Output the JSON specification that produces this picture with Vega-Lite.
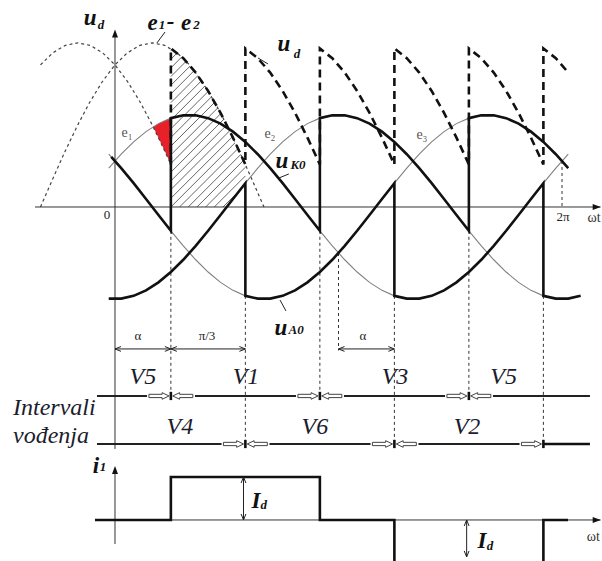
{
"$schema":"https://vega.github.io/schema/vega-lite/v6.json",
"width":602,"height":561,
"autosize":{"type":"fit","contains":"padding"},
"padding":0,
"background":"white",
"config":{"view":{"stroke":null}},
"datasets":{
"phase":[
{"t":-5,"e1":0.4226,"e2":-0.9962,"e3":0.5736},
{"t":5,"e1":0.5736,"e2":-0.9962,"e3":0.4226},
{"t":15,"e1":0.7071,"e2":-0.9659,"e3":0.2588},
{"t":25,"e1":0.8192,"e2":-0.9063,"e3":0.0872},
{"t":35,"e1":0.9063,"e2":-0.8192,"e3":-0.0872},
{"t":45,"e1":0.9659,"e2":-0.7071,"e3":-0.2588},
{"t":55,"e1":0.9962,"e2":-0.5736,"e3":-0.4226},
{"t":65,"e1":0.9962,"e2":-0.4226,"e3":-0.5736},
{"t":75,"e1":0.9659,"e2":-0.2588,"e3":-0.7071},
{"t":85,"e1":0.9063,"e2":-0.0872,"e3":-0.8192},
{"t":95,"e1":0.8192,"e2":0.0872,"e3":-0.9063},
{"t":105,"e1":0.7071,"e2":0.2588,"e3":-0.9659},
{"t":115,"e1":0.5736,"e2":0.4226,"e3":-0.9962},
{"t":125,"e1":0.4226,"e2":0.5736,"e3":-0.9962},
{"t":135,"e1":0.2588,"e2":0.7071,"e3":-0.9659},
{"t":145,"e1":0.0872,"e2":0.8192,"e3":-0.9063},
{"t":155,"e1":-0.0872,"e2":0.9063,"e3":-0.8192},
{"t":165,"e1":-0.2588,"e2":0.9659,"e3":-0.7071},
{"t":175,"e1":-0.4226,"e2":0.9962,"e3":-0.5736},
{"t":185,"e1":-0.5736,"e2":0.9962,"e3":-0.4226},
{"t":195,"e1":-0.7071,"e2":0.9659,"e3":-0.2588},
{"t":205,"e1":-0.8192,"e2":0.9063,"e3":-0.0872},
{"t":215,"e1":-0.9063,"e2":0.8192,"e3":0.0872},
{"t":225,"e1":-0.9659,"e2":0.7071,"e3":0.2588},
{"t":235,"e1":-0.9962,"e2":0.5736,"e3":0.4226},
{"t":245,"e1":-0.9962,"e2":0.4226,"e3":0.5736},
{"t":255,"e1":-0.9659,"e2":0.2588,"e3":0.7071},
{"t":265,"e1":-0.9063,"e2":0.0872,"e3":0.8192},
{"t":275,"e1":-0.8192,"e2":-0.0872,"e3":0.9063},
{"t":285,"e1":-0.7071,"e2":-0.2588,"e3":0.9659},
{"t":295,"e1":-0.5736,"e2":-0.4226,"e3":0.9962},
{"t":305,"e1":-0.4226,"e2":-0.5736,"e3":0.9962},
{"t":315,"e1":-0.2588,"e2":-0.7071,"e3":0.9659},
{"t":325,"e1":-0.0872,"e2":-0.8192,"e3":0.9063},
{"t":335,"e1":0.0872,"e2":-0.9063,"e3":0.8192},
{"t":345,"e1":0.2588,"e2":-0.9659,"e3":0.7071},
{"t":355,"e1":0.4226,"e2":-0.9962,"e3":0.5736},
{"t":365,"e1":0.5736,"e2":-0.9962,"e3":0.4226}
],
"uk":[
{"t":-3,"v":0.5446},{"t":5,"v":0.4226},{"t":15,"v":0.2588},{"t":25,"v":0.0872},{"t":35,"v":-0.0872},{"t":45,"v":-0.2588},
{"t":45,"v":0.9659},{"t":55,"v":0.9962},{"t":65,"v":0.9962},{"t":75,"v":0.9659},{"t":85,"v":0.9063},{"t":95,"v":0.8192},{"t":105,"v":0.7071},{"t":115,"v":0.5736},{"t":125,"v":0.4226},{"t":135,"v":0.2588},{"t":145,"v":0.0872},{"t":155,"v":-0.0872},{"t":165,"v":-0.2588},
{"t":165,"v":0.9659},{"t":175,"v":0.9962},{"t":185,"v":0.9962},{"t":195,"v":0.9659},{"t":205,"v":0.9063},{"t":215,"v":0.8192},{"t":225,"v":0.7071},{"t":235,"v":0.5736},{"t":245,"v":0.4226},{"t":255,"v":0.2588},{"t":265,"v":0.0872},{"t":275,"v":-0.0872},{"t":285,"v":-0.2588},
{"t":285,"v":0.9659},{"t":295,"v":0.9962},{"t":305,"v":0.9962},{"t":315,"v":0.9659},{"t":325,"v":0.9063},{"t":335,"v":0.8192},{"t":345,"v":0.7071},{"t":355,"v":0.5736},{"t":365,"v":0.4226}
],
"ua":[
{"t":-5,"v":-0.9962},{"t":5,"v":-0.9962},{"t":15,"v":-0.9659},{"t":25,"v":-0.9063},{"t":35,"v":-0.8192},{"t":45,"v":-0.7071},{"t":55,"v":-0.5736},{"t":65,"v":-0.4226},{"t":75,"v":-0.2588},{"t":85,"v":-0.0872},{"t":95,"v":0.0872},{"t":105,"v":0.2588},
{"t":105,"v":-0.9659},{"t":115,"v":-0.9962},{"t":125,"v":-0.9962},{"t":135,"v":-0.9659},{"t":145,"v":-0.9063},{"t":155,"v":-0.8192},{"t":165,"v":-0.7071},{"t":175,"v":-0.5736},{"t":185,"v":-0.4226},{"t":195,"v":-0.2588},{"t":205,"v":-0.0872},{"t":215,"v":0.0872},{"t":225,"v":0.2588},
{"t":225,"v":-0.9659},{"t":235,"v":-0.9962},{"t":245,"v":-0.9962},{"t":255,"v":-0.9659},{"t":265,"v":-0.9063},{"t":275,"v":-0.8192},{"t":285,"v":-0.7071},{"t":295,"v":-0.5736},{"t":305,"v":-0.4226},{"t":315,"v":-0.2588},{"t":325,"v":-0.0872},{"t":335,"v":0.0872},{"t":345,"v":0.2588},
{"t":345,"v":-0.9659},{"t":355,"v":-0.9962},{"t":365,"v":-0.9962},{"t":375,"v":-0.9659}
],
"ud":[
{"t":45,"v":0.4617},{"t":45,"v":1.7232},{"t":55,"v":1.6168},{"t":65,"v":1.4615},{"t":75,"v":1.2615},{"t":85,"v":1.0233},{"t":95,"v":0.7539},{"t":105,"v":0.4617},
{"t":105,"v":1.7232},{"t":115,"v":1.6168},{"t":125,"v":1.4615},{"t":135,"v":1.2615},{"t":145,"v":1.0233},{"t":155,"v":0.7539},{"t":165,"v":0.4617},
{"t":165,"v":1.7232},{"t":175,"v":1.6168},{"t":185,"v":1.4615},{"t":195,"v":1.2615},{"t":205,"v":1.0233},{"t":215,"v":0.7539},{"t":225,"v":0.4617},
{"t":225,"v":1.7232},{"t":235,"v":1.6168},{"t":245,"v":1.4615},{"t":255,"v":1.2615},{"t":265,"v":1.0233},{"t":275,"v":0.7539},{"t":285,"v":0.4617},
{"t":285,"v":1.7232},{"t":295,"v":1.6168},{"t":305,"v":1.4615},{"t":315,"v":1.2615},{"t":325,"v":1.0233},{"t":335,"v":0.7539},{"t":345,"v":0.4617},
{"t":345,"v":1.7232},{"t":355,"v":1.6168},{"t":365,"v":1.4615}
],
"arcs":[
{"c":"A","t":-60,"v":0},{"c":"A","t":-50,"v":0.3097},{"c":"A","t":-40,"v":0.6101},{"c":"A","t":-30,"v":0.892},{"c":"A","t":-20,"v":1.1468},{"c":"A","t":-10,"v":1.3665},{"c":"A","t":0,"v":1.545},{"c":"A","t":10,"v":1.6764},{"c":"A","t":20,"v":1.7569},{"c":"A","t":30,"v":1.784},{"c":"A","t":40,"v":1.7569},{"c":"A","t":50,"v":1.6764},{"c":"A","t":60,"v":1.545},{"c":"A","t":70,"v":1.3665},{"c":"A","t":80,"v":1.1468},{"c":"A","t":90,"v":0.892},{"c":"A","t":100,"v":0.6101},{"c":"A","t":110,"v":0.3097},{"c":"A","t":120,"v":0},
{"c":"B","t":-60,"v":1.545},{"c":"B","t":-50,"v":1.6764},{"c":"B","t":-40,"v":1.7569},{"c":"B","t":-30,"v":1.784},{"c":"B","t":-20,"v":1.7569},{"c":"B","t":-10,"v":1.6764},{"c":"B","t":0,"v":1.545},{"c":"B","t":10,"v":1.3665},{"c":"B","t":20,"v":1.1468},{"c":"B","t":30,"v":0.892},{"c":"B","t":40,"v":0.6101},{"c":"B","t":45,"v":0.4617}
],
"red":[
{"t":30.7,"v":0.872,"v2":0.872},{"t":35,"v":0.7539,"v2":0.9063},{"t":40,"v":0.6101,"v2":0.9397},{"t":45,"v":0.4617,"v2":0.9659}
],
"mask":[
{"c":"top","t":45,"v":1.7232,"v2":1.95},{"c":"top","t":55,"v":1.6168,"v2":1.95},{"c":"top","t":65,"v":1.4615,"v2":1.95},{"c":"top","t":75,"v":1.2615,"v2":1.95},{"c":"top","t":85,"v":1.0233,"v2":1.95},{"c":"top","t":95,"v":0.7539,"v2":1.95},{"c":"top","t":105,"v":0.4617,"v2":1.95},
{"c":"bot","t":88,"v":-0.05,"v2":0},{"c":"bot","t":90,"v":-0.05,"v2":0},{"c":"bot","t":95,"v":-0.05,"v2":0.0872},{"c":"bot","t":100,"v":-0.05,"v2":0.1736},{"c":"bot","t":105,"v":-0.05,"v2":0.2588}
],
"hatch":[
{"t":101,"v":0,"t2":105,"v2":0.054},{"t":94,"v":0,"t2":105,"v2":0.1485},{"t":87,"v":0,"t2":105,"v2":0.243},{"t":80,"v":0,"t2":105,"v2":0.3375},{"t":73,"v":0,"t2":105,"v2":0.432},{"t":66,"v":0,"t2":105,"v2":0.5265},{"t":59,"v":0,"t2":105,"v2":0.621},{"t":52,"v":0,"t2":105,"v2":0.7155},{"t":45,"v":0,"t2":105,"v2":0.81},
{"t":45,"v":0.0945,"t2":105,"v2":0.9045},{"t":45,"v":0.189,"t2":105,"v2":0.999},{"t":45,"v":0.2835,"t2":105,"v2":1.0935},{"t":45,"v":0.378,"t2":105,"v2":1.188},{"t":45,"v":0.4725,"t2":105,"v2":1.2825},{"t":45,"v":0.567,"t2":105,"v2":1.377},{"t":45,"v":0.6615,"t2":105,"v2":1.4715},{"t":45,"v":0.756,"t2":105,"v2":1.566},{"t":45,"v":0.8505,"t2":105,"v2":1.6605},
{"t":45,"v":0.945,"t2":102.6,"v2":1.7232},{"t":45,"v":1.0395,"t2":95.6,"v2":1.7232},{"t":45,"v":1.134,"t2":88.6,"v2":1.7232},{"t":45,"v":1.2285,"t2":81.6,"v2":1.7232},{"t":45,"v":1.323,"t2":74.6,"v2":1.7232},{"t":45,"v":1.4175,"t2":67.6,"v2":1.7232},{"t":45,"v":1.512,"t2":60.6,"v2":1.7232},{"t":45,"v":1.6065,"t2":53.6,"v2":1.7232},{"t":45,"v":1.701,"t2":46.6,"v2":1.7232}
],
"seg":[
{"k":"ax","t":-64.4,"v":0,"t2":391,"v2":0},
{"k":"ax","t":0,"v":1.9,"t2":0,"v2":-2.63},
{"k":"ax","t":0,"v":-2.84,"t2":0,"v2":-3.663},
{"k":"ax","t":-16.1,"v":-3.402,"t2":391,"v2":-3.402},
{"k":"dot","t":45,"v":-0.2588,"t2":45,"v2":-2.054},
{"k":"dot","t":165,"v":-0.2588,"t2":165,"v2":-2.054},
{"k":"dot","t":285,"v":-0.2588,"t2":285,"v2":-2.054},
{"k":"dot","t":105,"v":-0.9659,"t2":105,"v2":-2.576},
{"k":"dot","t":225,"v":-0.9659,"t2":225,"v2":-2.576},
{"k":"dot","t":345,"v":-0.9659,"t2":345,"v2":-2.576},
{"k":"dot","t":180,"v":-0.5,"t2":180,"v2":-1.56},
{"k":"dot","t":360,"v":0.5,"t2":360,"v2":0},
{"k":"row","t":-14.5,"v":-2.054,"t2":25.8,"v2":-2.054},
{"k":"row","t":64.4,"v":-2.054,"t2":145.8,"v2":-2.054},
{"k":"row","t":184.4,"v":-2.054,"t2":265.8,"v2":-2.054},
{"k":"row","t":304.4,"v":-2.054,"t2":382.5,"v2":-2.054},
{"k":"row","t":-14.5,"v":-2.576,"t2":85.8,"v2":-2.576},
{"k":"row","t":124.4,"v":-2.576,"t2":205.8,"v2":-2.576},
{"k":"row","t":244.4,"v":-2.576,"t2":325.8,"v2":-2.576},
{"k":"rowthick","t":345,"v":-2.576,"t2":382.5,"v2":-2.576},
{"k":"tick","t":45,"v":-2.009,"t2":45,"v2":-2.099},
{"k":"tick","t":165,"v":-2.009,"t2":165,"v2":-2.099},
{"k":"tick","t":285,"v":-2.009,"t2":285,"v2":-2.099},
{"k":"tick","t":105,"v":-2.531,"t2":105,"v2":-2.621},
{"k":"tick","t":225,"v":-2.531,"t2":225,"v2":-2.621},
{"k":"tick","t":345,"v":-2.531,"t2":345,"v2":-2.621},
{"k":"dim","t":0,"v":-1.543,"t2":45,"v2":-1.543},
{"k":"dim","t":45,"v":-1.543,"t2":105,"v2":-1.543},
{"k":"dim","t":180,"v":-1.543,"t2":225,"v2":-1.543},
{"k":"dim","t":103.5,"v":-2.935,"t2":103.5,"v2":-3.402},
{"k":"dim","t":283.2,"v":-3.402,"t2":283.2,"v2":-3.804},
{"k":"lead","t":33.8,"v":1.783,"t2":40.3,"v2":1.902},
{"k":"lead","t":115.2,"v":1.62,"t2":123.2,"v2":1.555},
{"k":"lead","t":132,"v":0.315,"t2":140,"v2":0.359},
{"k":"lead","t":132.9,"v":-1.011,"t2":137.7,"v2":-1.13}
],
"i1":[
{"t":-16.1,"v":-3.402},{"t":45,"v":-3.402},{"t":45,"v":-2.935},{"t":165,"v":-2.935},{"t":165,"v":-3.402},{"t":225,"v":-3.402},{"t":225,"v":-3.95},{"t":345,"v":-3.95},{"t":345,"v":-3.402},{"t":364.8,"v":-3.402}
],
"pts":[
{"k":"br","t":43.5,"v":-2.054},{"k":"br","t":163.5,"v":-2.054},{"k":"br","t":283.5,"v":-2.054},{"k":"br","t":103.5,"v":-2.576},{"k":"br","t":223.5,"v":-2.576},{"k":"br","t":343.5,"v":-2.576},
{"k":"bl","t":46.5,"v":-2.054},{"k":"bl","t":166.5,"v":-2.054},{"k":"bl","t":286.5,"v":-2.054},{"k":"bl","t":106.5,"v":-2.576},{"k":"bl","t":226.5,"v":-2.576},
{"k":"cl","t":0,"v":-1.543},{"k":"cl","t":45,"v":-1.543},{"k":"cl","t":180,"v":-1.543},
{"k":"cr","t":45,"v":-1.543},{"k":"cr","t":105,"v":-1.543},{"k":"cr","t":225,"v":-1.543},
{"k":"cu","t":103.5,"v":-2.935},{"k":"cu","t":283.2,"v":-3.402},
{"k":"cd","t":103.5,"v":-3.402},{"k":"cd","t":283.2,"v":-3.804},
{"k":"hr","t":391.2,"v":0},{"k":"hr","t":391.2,"v":-3.402},
{"k":"hu","t":0,"v":1.93},{"k":"hu","t":0,"v":-2.815}
],
"labels":[
{"k":"big","t":-20.1,"v":2.054,"label":"u"},
{"k":"big","t":30.2,"v":2.0,"label":"e"},
{"k":"big","t":44.7,"v":2.011,"label":"-"},
{"k":"big","t":57.2,"v":2.0,"label":"e"},
{"k":"big","t":136.1,"v":1.772,"label":"u"},
{"k":"big","t":134.5,"v":0.5,"label":"u"},
{"k":"big","t":133.7,"v":-1.315,"label":"u"},
{"k":"big","t":-15.3,"v":-2.815,"label":"i"},
{"k":"big","t":113.5,"v":-3.196,"label":"I"},
{"k":"big","t":295.6,"v":-3.63,"label":"I"},
{"k":"sub","t":-11.3,"v":1.978,"label":"d"},
{"k":"sub","t":37.9,"v":1.978,"label":"1"},
{"k":"sub","t":65.6,"v":1.978,"label":"2"},
{"k":"sub","t":146.6,"v":1.66,"label":"d"},
{"k":"sub","t":147.4,"v":0.457,"label":"K0"},
{"k":"sub","t":145.8,"v":-1.337,"label":"A0"},
{"k":"sub","t":-9.7,"v":-2.826,"label":"1"},
{"k":"sub","t":119.8,"v":-3.239,"label":"d"},
{"k":"sub","t":302,"v":-3.685,"label":"d"},
{"k":"reg","t":18.5,"v":-1.402,"label":"α"},
{"k":"reg","t":74.1,"v":-1.402,"label":"π/3"},
{"k":"reg","t":199.7,"v":-1.402,"label":"α"},
{"k":"reg","t":-6.4,"v":-0.087,"label":"0"},
{"k":"reg","t":360.8,"v":-0.109,"label":"2π"},
{"k":"regL","t":380.5,"v":-0.12,"label":"ωt"},
{"k":"regL","t":380,"v":-3.587,"label":"ωt"},
{"k":"e","t":9.7,"v":0.804,"label":"e₁"},
{"k":"e","t":124.8,"v":0.793,"label":"e₂"},
{"k":"e","t":247.2,"v":0.783,"label":"e₃"},
{"k":"V","t":22.5,"v":-1.848,"label":"V5"},
{"k":"V","t":105.5,"v":-1.848,"label":"V1"},
{"k":"V","t":225.5,"v":-1.848,"label":"V3"},
{"k":"V","t":313,"v":-1.848,"label":"V5"},
{"k":"V","t":52.3,"v":-2.391,"label":"V4"},
{"k":"V","t":161,"v":-2.391,"label":"V6"},
{"k":"V","t":283.5,"v":-2.391,"label":"V2"},
{"k":"int","t":-82.1,"v":-2.261,"label":"Intervali"},
{"k":"int","t":-82.1,"v":-2.565,"label":"vođenja"}
]
},
"encoding":{
"x":{"field":"t","type":"quantitative","scale":{"domain":[-92.6,392.2],"nice":false,"zero":false},"axis":null},
"y":{"field":"v","type":"quantitative","scale":{"domain":[-3.848,2.25],"nice":false,"zero":false},"axis":null}
},
"layer":[
{"data":{"name":"hatch"},"mark":{"type":"rule","stroke":"#555555","strokeWidth":0.9},"encoding":{"x2":{"field":"t2"},"y2":{"field":"v2"}}},
{"data":{"name":"mask"},"mark":{"type":"area","color":"white","opacity":1},"encoding":{"y2":{"field":"v2"},"detail":{"field":"c"}}},
{"data":{"name":"red"},"mark":{"type":"area","color":"#e8202a","opacity":1},"encoding":{"y2":{"field":"v2"}}},
{"data":{"name":"arcs"},"mark":{"type":"line","stroke":"#444444","strokeWidth":1.2,"strokeDash":[3,3]},"encoding":{"detail":{"field":"c"}}},
{"data":{"name":"phase"},"transform":[{"fold":["e1","e2","e3"],"as":["c","v"]}],"mark":{"type":"line","stroke":"#808080","strokeWidth":1.1},"encoding":{"detail":{"field":"c"}}},
{"data":{"name":"seg"},"transform":[{"filter":"datum.k == 'ax'"}],"mark":{"type":"rule","stroke":"#333333","strokeWidth":1},"encoding":{"x2":{"field":"t2"},"y2":{"field":"v2"}}},
{"data":{"name":"seg"},"transform":[{"filter":"datum.k == 'dot'"}],"mark":{"type":"rule","stroke":"#333333","strokeWidth":1,"strokeDash":[3,3]},"encoding":{"x2":{"field":"t2"},"y2":{"field":"v2"}}},
{"data":{"name":"uk"},"mark":{"type":"line","stroke":"#111111","strokeWidth":2.6},"encoding":{"order":{"value":null}}},
{"data":{"name":"ua"},"mark":{"type":"line","stroke":"#111111","strokeWidth":2.6},"encoding":{"order":{"value":null}}},
{"data":{"name":"ud"},"mark":{"type":"line","stroke":"#111111","strokeWidth":2.6,"strokeDash":[8,5]},"encoding":{"order":{"value":null}}},
{"data":{"name":"seg"},"transform":[{"filter":"datum.k == 'row'"}],"mark":{"type":"rule","stroke":"#222222","strokeWidth":2},"encoding":{"x2":{"field":"t2"},"y2":{"field":"v2"}}},
{"data":{"name":"seg"},"transform":[{"filter":"datum.k == 'rowthick' || datum.k == 'tick'"}],"mark":{"type":"rule","stroke":"#111111","strokeWidth":2.6},"encoding":{"x2":{"field":"t2"},"y2":{"field":"v2"}}},
{"data":{"name":"seg"},"transform":[{"filter":"datum.k == 'dim' || datum.k == 'lead'"}],"mark":{"type":"rule","stroke":"#222222","strokeWidth":1},"encoding":{"x2":{"field":"t2"},"y2":{"field":"v2"}}},
{"data":{"name":"i1"},"mark":{"type":"line","stroke":"#111111","strokeWidth":2.6,"clip":true},"encoding":{"order":{"value":null}}},
{"data":{"name":"pts"},"transform":[{"filter":"datum.k == 'br'"}],"mark":{"type":"point","shape":"M0,0L-2.3,-1.1L-2.3,-0.55L-6.7,-0.55L-6.7,0.55L-2.3,0.55L-2.3,1.1Z","size":36,"filled":true,"fill":"white","stroke":"#444444","strokeWidth":1,"opacity":1}},
{"data":{"name":"pts"},"transform":[{"filter":"datum.k == 'bl'"}],"mark":{"type":"point","shape":"M0,0L2.3,-1.1L2.3,-0.55L6.7,-0.55L6.7,0.55L2.3,0.55L2.3,1.1Z","size":36,"filled":true,"fill":"white","stroke":"#444444","strokeWidth":1,"opacity":1}},
{"data":{"name":"pts"},"transform":[{"filter":"datum.k == 'cl'"}],"mark":{"type":"point","shape":"M2,-0.8L0,0L2,0.8","size":36,"filled":false,"stroke":"#222222","strokeWidth":1,"opacity":1}},
{"data":{"name":"pts"},"transform":[{"filter":"datum.k == 'cr'"}],"mark":{"type":"point","shape":"M-2,-0.8L0,0L-2,0.8","size":36,"filled":false,"stroke":"#222222","strokeWidth":1,"opacity":1}},
{"data":{"name":"pts"},"transform":[{"filter":"datum.k == 'cu'"}],"mark":{"type":"point","shape":"M-0.8,2L0,0L0.8,2","size":36,"filled":false,"stroke":"#222222","strokeWidth":1,"opacity":1}},
{"data":{"name":"pts"},"transform":[{"filter":"datum.k == 'cd'"}],"mark":{"type":"point","shape":"M-0.8,-2L0,0L0.8,-2","size":36,"filled":false,"stroke":"#222222","strokeWidth":1,"opacity":1}},
{"data":{"name":"pts"},"transform":[{"filter":"datum.k == 'hr'"}],"mark":{"type":"point","shape":"M0,0L-2.7,-1L-2.7,1Z","size":36,"filled":true,"fill":"#111111","strokeWidth":0,"opacity":1}},
{"data":{"name":"pts"},"transform":[{"filter":"datum.k == 'hu'"}],"mark":{"type":"point","shape":"M0,0L-1,2.7L1,2.7Z","size":36,"filled":true,"fill":"#111111","strokeWidth":0,"opacity":1}},
{"data":{"name":"labels"},"transform":[{"filter":"datum.k == 'big'"}],"mark":{"type":"text","font":"Liberation Serif","fontSize":23,"fontWeight":"bold","fontStyle":"italic","align":"center","baseline":"middle","color":"#111111"},"encoding":{"text":{"field":"label"}}},
{"data":{"name":"labels"},"transform":[{"filter":"datum.k == 'sub'"}],"mark":{"type":"text","font":"Liberation Serif","fontSize":13,"fontWeight":"bold","fontStyle":"italic","align":"center","baseline":"middle","color":"#111111"},"encoding":{"text":{"field":"label"}}},
{"data":{"name":"labels"},"transform":[{"filter":"datum.k == 'reg'"}],"mark":{"type":"text","font":"Liberation Serif","fontSize":13,"align":"center","baseline":"middle","color":"#222222"},"encoding":{"text":{"field":"label"}}},
{"data":{"name":"labels"},"transform":[{"filter":"datum.k == 'regL'"}],"mark":{"type":"text","font":"Liberation Serif","fontSize":14,"align":"left","baseline":"middle","color":"#333333"},"encoding":{"text":{"field":"label"}}},
{"data":{"name":"labels"},"transform":[{"filter":"datum.k == 'e'"}],"mark":{"type":"text","font":"Liberation Serif","fontSize":14,"align":"center","baseline":"middle","color":"#555555"},"encoding":{"text":{"field":"label"}}},
{"data":{"name":"labels"},"transform":[{"filter":"datum.k == 'V'"}],"mark":{"type":"text","font":"Liberation Serif","fontSize":24,"fontStyle":"italic","align":"center","baseline":"middle","color":"#1c1c2c"},"encoding":{"text":{"field":"label"}}},
{"data":{"name":"labels"},"transform":[{"filter":"datum.k == 'int'"}],"mark":{"type":"text","font":"Liberation Serif","fontSize":24,"fontStyle":"italic","align":"left","baseline":"alphabetic","color":"#1c1c2c"},"encoding":{"text":{"field":"label"}}}
]
}
